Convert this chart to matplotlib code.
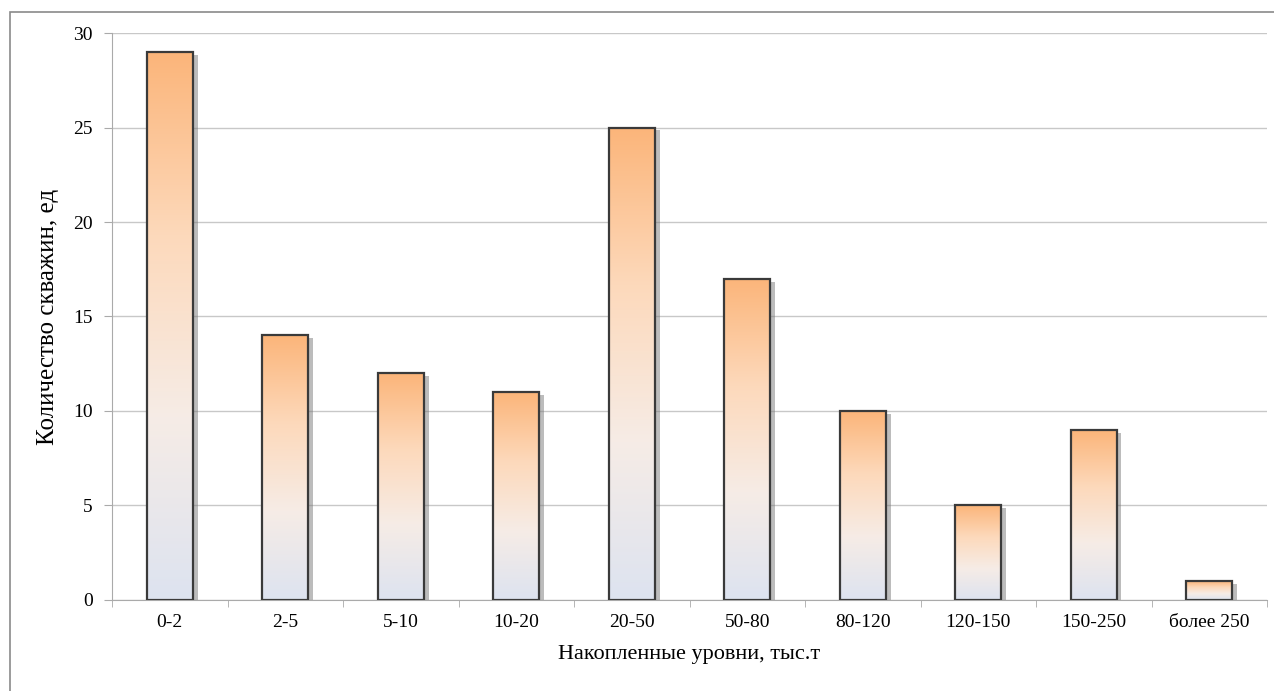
import matplotlib.pyplot as plt
import numpy as np
from matplotlib.colors import LinearSegmentedColormap
from matplotlib.patches import Rectangle

categories = ['0-2', '2-5', '5-10', '10-20', '20-50', '50-80', '80-120',
              '120-150', '150-250', 'более 250']
wells = [29, 14, 12, 11, 25, 17, 10, 5, 9, 1]

plt.rcParams['font.family'] = ['Liberation Serif', 'DejaVu Serif']

fig = plt.figure(figsize=(12.74, 6.91), dpi=100)
ax = fig.add_axes([0.088, 0.132, 0.9065, 0.82])

# frame around the whole picture
fig.patches.append(Rectangle((0.008, -0.01), 1.0, 0.993, transform=fig.transFigure,
                             fill=False, edgecolor='#8a8a8a', linewidth=1.2))

grad = LinearSegmentedColormap.from_list(
    'bar', ['#dde3f0', '#f6ece6', '#fdd9bb', '#fbb57a'])
g = np.linspace(0, 1, 256).reshape(-1, 1)

x = np.arange(len(categories))
width = 0.4
# shadows
ax.bar(x + 0.04, wells, width, bottom=-0.15, color='#7a7a7a', alpha=0.5,
       zorder=2, linewidth=0)
bars = ax.bar(x, wells, width, facecolor='none', edgecolor='#3a3a3a',
              linewidth=1.6, zorder=4)
for b in bars:
    x0, y0 = b.get_x(), b.get_y()
    w, h = b.get_width(), b.get_height()
    ax.imshow(g, cmap=grad, origin='lower', aspect='auto',
              extent=(x0, x0 + w, y0, y0 + h), zorder=3)

ax.set_xlim(-0.5, len(categories) - 0.5)
ax.set_ylim(0, 30)
ax.set_yticks(range(0, 31, 5))
ax.set_xticks(x)
ax.set_xticklabels(categories)
ax.set_xticks(np.arange(-0.5, len(categories), 1), minor=True)
ax.tick_params(axis='x', which='major', length=0, labelsize=14, pad=10)
ax.tick_params(axis='x', which='minor', length=5, color='#aaaaaa')
ax.tick_params(axis='y', length=6, color='#aaaaaa', labelsize=14, pad=8)
ax.grid(axis='y', color='#c8c8c8', linewidth=1)
ax.set_axisbelow(True)
for s in ['top', 'right']:
    ax.spines[s].set_visible(False)
ax.spines['left'].set_color('#aaaaaa')
ax.spines['bottom'].set_color('#aaaaaa')

ax.set_ylabel('Количество скважин, ед', fontsize=18, labelpad=10)
ax.set_xlabel('Накопленные уровни, тыс.т', fontsize=16, labelpad=10)

plt.savefig('out.png', dpi=100)
